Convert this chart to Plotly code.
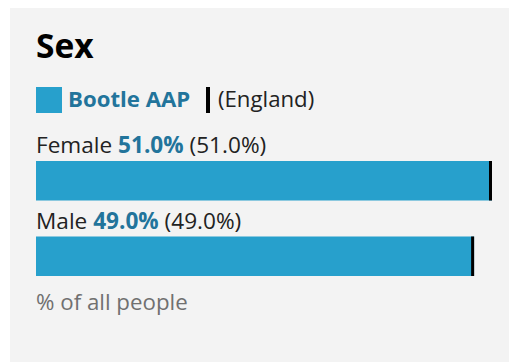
import plotly.graph_objects as go

# Data
categories = ["Female", "Male"]
area_values = [51.0, 49.0]       # Bootle AAP
england_values = [51.0, 49.0]    # England comparison
area_name = "Bootle AAP"
comparison_name = "England"
title_text = "Sex"
footnote_text = "% of all people"

# Styling
W, H = 509, 362
BLUE = "#27a0cc"
BLUE_TEXT = "#22749b"
TEXT = "#222222"
GREY_TEXT = "#707070"
PANEL = "#f3f3f3"
FONT = "Open Sans"

# Plot area in pixels
L, R = 36, 17
T, B = 143, 68
plot_w = W - L - R
plot_h = H - T - B
x_max = max(max(area_values), max(england_values))
marker_w = 3 * x_max / plot_w   # England marker thickness in data units


def px_x(px):
    return (px - L) / plot_w


def px_y(py):
    return (H - B - py) / plot_h


fig = go.Figure()

fig.add_trace(go.Bar(
    y=categories, x=area_values, orientation="h", width=0.523,
    marker=dict(color=BLUE, line=dict(width=0)), name=area_name,
    hoverinfo="skip",
))
fig.add_trace(go.Bar(
    y=categories, x=[marker_w] * len(england_values),
    base=[v - marker_w for v in england_values], orientation="h", width=0.523,
    marker=dict(color="#000000", line=dict(width=0)), name=comparison_name,
    hoverinfo="skip",
))

annotations = []
# Row labels above each bar
for cat, v, e in zip(categories, area_values, england_values):
    annotations.append(dict(
        x=px_x(34), xref="paper", y=cat, yref="y", yshift=36,
        xanchor="left", yanchor="middle", showarrow=False,
        text=f"{cat} <b><span style='color:{BLUE_TEXT}'>{v:.1f}%</span></b> ({e:.1f}%)",
        font=dict(family=FONT, size=22.6, color=TEXT),
    ))

# Title
annotations.append(dict(
    x=px_x(34), xref="paper", y=px_y(45.5), yref="paper",
    xanchor="left", yanchor="middle", showarrow=False,
    text=f"<b>{title_text}</b>", font=dict(family=FONT, size=33.5, color="#000000"),
))
# Legend texts
annotations.append(dict(
    x=px_x(66), xref="paper", y=px_y(98.5), yref="paper",
    xanchor="left", yanchor="middle", showarrow=False,
    text=f"<b>{area_name}</b>", font=dict(family=FONT, size=22.2, color=BLUE_TEXT),
))
annotations.append(dict(
    x=px_x(216), xref="paper", y=px_y(98.5), yref="paper",
    xanchor="left", yanchor="middle", showarrow=False,
    text=f"({comparison_name})", font=dict(family=FONT, size=22.2, color=TEXT),
))
# Footnote
annotations.append(dict(
    x=px_x(34), xref="paper", y=px_y(301.5), yref="paper",
    xanchor="left", yanchor="middle", showarrow=False,
    text=footnote_text, font=dict(family=FONT, size=22.3, color=GREY_TEXT),
))

shapes = [
    # Panel background
    dict(type="rect", xref="paper", yref="paper", layer="below",
         x0=px_x(10), x1=px_x(W + 5), y0=px_y(H + 5), y1=px_y(8),
         fillcolor=PANEL, line=dict(width=0)),
    # Legend key for the area
    dict(type="rect", xref="paper", yref="paper",
         x0=px_x(36), x1=px_x(62), y0=px_y(113), y1=px_y(87),
         fillcolor=BLUE, line=dict(width=0)),
    # Legend key for the comparison marker
    dict(type="rect", xref="paper", yref="paper",
         x0=px_x(206), x1=px_x(210), y0=px_y(113), y1=px_y(87),
         fillcolor="#000000", line=dict(width=0)),
]

fig.update_layout(
    width=W, height=H,
    margin=dict(l=L, r=R, t=T, b=B, pad=0),
    paper_bgcolor="#ffffff", plot_bgcolor="rgba(0,0,0,0)",
    barmode="overlay", showlegend=False, hovermode=False,
    xaxis=dict(range=[0, x_max], visible=False, fixedrange=True),
    yaxis=dict(range=[len(categories) - 0.5, -0.5], visible=False,
               type="category", categoryorder="array", categoryarray=categories,
               fixedrange=True),
    annotations=annotations, shapes=shapes,
    font=dict(family=FONT),
)

fig.write_html("out.html", config={"displayModeBar": False})
